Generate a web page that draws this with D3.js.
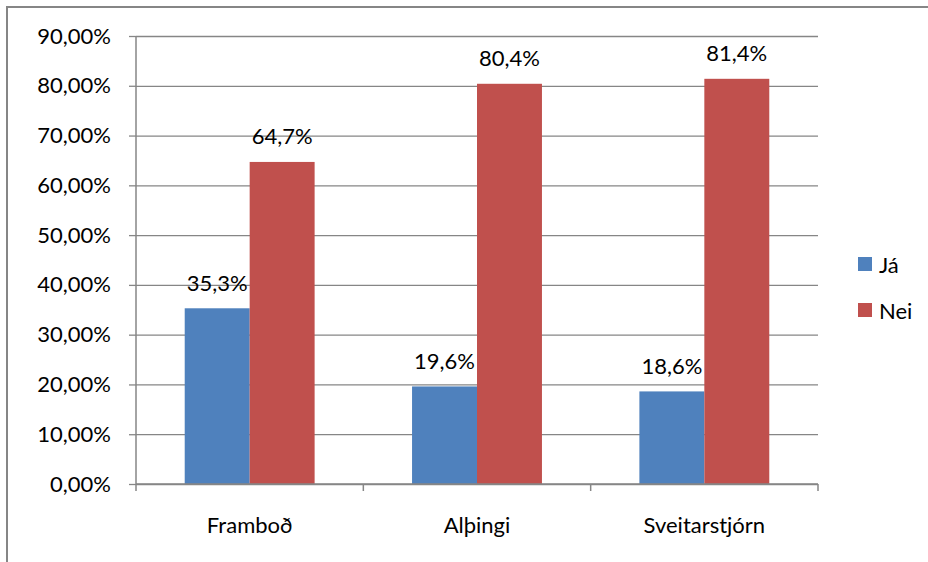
<!DOCTYPE html>
<html><head><meta charset="utf-8">
<script src="https://cdn.jsdelivr.net/npm/d3@7"></script>
<style>body{margin:0;background:#fff}svg{display:block}text{font-family:Lato,"Open Sans",sans-serif;fill:#000}</style>
</head><body><svg id="c" width="928" height="562"></svg>
<script>
const categories = ["Framboð", "Alþingi", "Sveitarstjórn"];
const seriesNames = ["Já", "Nei"];
const jaValues = [35.3, 19.6, 18.6];
const neiValues = [64.7, 80.4, 81.4];
const yTicks = [0, 10, 20, 30, 40, 50, 60, 70, 80, 90];
const colors = ["#4F81BD", "#C0504D"];

const svg = d3.select("#c");
const m = {l: 136, r: 818, t: 36, b: 484};
const fs = 22;

svg.append("rect").attr("x", 7).attr("y", 7).attr("width", 950).attr("height", 580)
  .attr("fill", "#fff").attr("stroke", "#868686").attr("stroke-width", 2);

const x = d3.scaleBand().domain(categories).range([m.l, m.r]).paddingInner(0).paddingOuter(0);
const y = d3.scaleLinear().domain([0, 90]).range([m.b, m.t]);
// gap width 150%: bar = band/3.5; outer padding each side = 0.75 bar
const barW = x.bandwidth() / 3.5;

const yAxis = d3.axisLeft(y).tickValues(yTicks).tickSize(7).tickFormat(d => d3.format(".2f")(d).replace(".", ",") + "%").tickPadding(18);
const gy = svg.append("g").attr("transform", `translate(${m.l},0)`).call(yAxis);
gy.selectAll(".tick line").attr("stroke", "#868686").attr("stroke-width", 1.3);
gy.selectAll(".tick").append("line").attr("x1", 0).attr("x2", m.r - m.l).attr("stroke", "#868686").attr("stroke-width", 1.3);
gy.select(".domain").remove();
gy.selectAll("text").attr("font-size", fs).attr("font-family", "Lato").style("fill", "#000");

const data = categories.map((c, i) => ({c, vals: [jaValues[i], neiValues[i]]}));
const g = svg.append("g");
data.forEach(d => {
  d.vals.forEach((v, j) => {
    const bx = x(d.c) + 0.75 * barW + j * barW;
    g.append("rect").attr("x", bx).attr("y", y(v)).attr("width", barW).attr("height", y(0) - y(v)).attr("fill", colors[j]);
    g.append("text").attr("x", bx + barW / 2).attr("y", y(v) - 26).attr("text-anchor", "middle")
      .attr("dominant-baseline", "central").attr("font-size", fs).text(d3.format(".1f")(v).replace(".", ",") + "%");
  });
});

svg.append("line").attr("x1", m.l).attr("x2", m.l).attr("y1", m.t).attr("y2", m.b).attr("stroke", "#868686").attr("stroke-width", 1.5);
const xAxis = d3.axisBottom(x).tickSize(0).tickPadding(33);
const gx = svg.append("g").attr("transform", `translate(0,${m.b})`).call(xAxis);
gx.select(".domain").remove();
gx.selectAll("text").attr("font-size", fs).attr("font-family", "Lato").style("fill", "#000");
svg.append("line").attr("x1", m.l).attr("x2", m.r).attr("y1", m.b).attr("y2", m.b).attr("stroke", "#868686").attr("stroke-width", 1.5);
[...categories.map(c => x(c)), m.r].forEach(tx => {
  svg.append("line").attr("x1", tx).attr("x2", tx).attr("y1", m.b).attr("y2", m.b + 7).attr("stroke", "#868686").attr("stroke-width", 1.5);
});

const lg = svg.append("g");
seriesNames.forEach((s, i) => {
  const ly = 264 + i * 46;
  lg.append("rect").attr("x", 858).attr("y", ly - 7).attr("width", 14).attr("height", 14).attr("fill", colors[i]);
  lg.append("text").attr("x", 879).attr("y", ly).attr("dominant-baseline", "central").attr("font-size", fs).text(s);
});
</script></body></html>
